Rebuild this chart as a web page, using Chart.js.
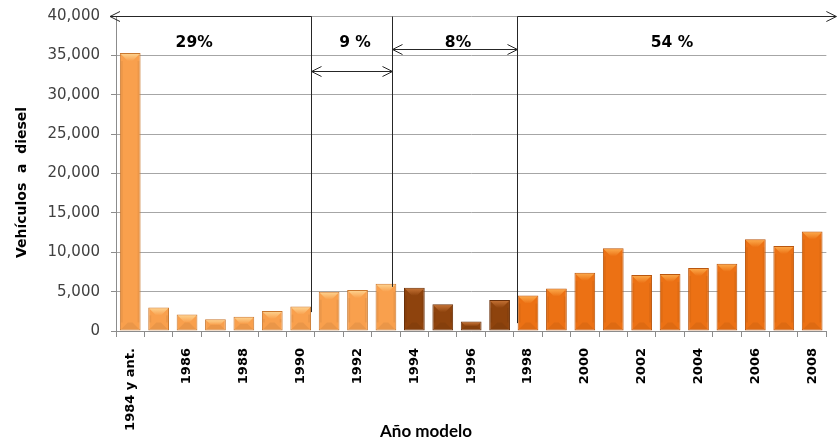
<!DOCTYPE html>
<html>
<head>
<meta charset="utf-8">
<script src="https://cdn.jsdelivr.net/npm/chart.js@4/dist/chart.umd.min.js"></script>
<style>
  html, body { margin: 0; padding: 0; background: #fff; }
  #wrap { width: 839px; height: 442px; position: relative; }
</style>
</head>
<body>
<div id="wrap"><canvas id="grafico"></canvas></div>
<script>
// categorias (año modelo)
const anos = ['1984 y ant.', '1985', '1986', '1987', '1988', '1989', '1990', '1991', '1992',
    '1993', '1994', '1995', '1996', '1997', '1998', '1999', '2000', '2001', '2002', '2003',
    '2004', '2005', '2006', '2007', '2008'];

// vehiculos a diesel por año
const vehiculos = [35300, 3000, 2100, 1500, 1800, 2550, 3100, 5000, 5200,
    6000, 5500, 3400, 1200, 3950, 4500, 5400, 7400, 10500, 7100, 7250,
    8000, 8550, 11650, 10800, 12650];

// marcas del eje y
const ticksY = [0, 5000, 10000, 15000, 20000, 25000, 30000, 35000, 40000];

// periodos marcados arriba
const periodoTexto = ['29%', '9 %', '8%', '54 %'];
const periodoFin = ['1990', '1993', '1997'];   // ultimo año de cada periodo

// colores por periodo: relleno, borde, brillo arriba
const colorRelleno = ['#F9A04D', '#F9A04D', '#8E430D', '#EC7114'];
const colorBorde = ['#C9782F', '#C9782F', '#6A300A', '#B9560E'];
const colorBrillo = ['#FDD08C', '#FDD08C', '#C27033', '#FBA748'];

function periodoDe(ano) {
    const i = anos.indexOf(ano);
    for (let p = 0; p < periodoFin.length; p++) {
        if (i <= anos.indexOf(periodoFin[p])) return p;
    }
    return periodoFin.length;
}

const periodos = anos.map(periodoDe);

// dibuja el biselado de las barras
const biselPlugin = {
    id: 'bisel',
    afterDatasetsDraw(chart) {
        const ctx = chart.ctx;
        chart.getDatasetMeta(0).data.forEach((bar, i) => {
            const p = bar.getProps(['x', 'y', 'base', 'width'], true);
            const l = p.x - p.width / 2 + 1, r = p.x + p.width / 2 - 1;
            const t = p.y + 1, b = p.base - 1;
            const d = Math.min(7, (b - t) / 2);
            ctx.save();
            // brillo arriba
            const g = ctx.createLinearGradient(0, t, 0, t + d);
            g.addColorStop(0, colorBrillo[periodos[i]]);
            g.addColorStop(1, colorRelleno[periodos[i]]);
            ctx.fillStyle = g;
            ctx.beginPath();
            ctx.moveTo(l, t); ctx.lineTo(r, t); ctx.lineTo(r - d, t + d); ctx.lineTo(l + d, t + d);
            ctx.closePath();
            ctx.fill();
            // sombra abajo
            ctx.fillStyle = 'rgba(0,0,0,0.06)';
            ctx.beginPath();
            ctx.moveTo(l, b); ctx.lineTo(r, b); ctx.lineTo(r - d, b - d); ctx.lineTo(l + d, b - d);
            ctx.closePath();
            ctx.fill();
            // lados
            ctx.fillStyle = 'rgba(0,0,0,0.05)';
            ctx.fillRect(l, t + d, 2, b - t - 2 * d);
            ctx.fillRect(r - 2, t + d, 2, b - t - 2 * d);
            ctx.restore();
        });
    }
};

function flecha(ctx, x, y, dir) {
    ctx.beginPath();
    ctx.moveTo(x - dir * 10, y - 5);
    ctx.lineTo(x, y);
    ctx.lineTo(x - dir * 10, y + 5);
    ctx.stroke();
}

// lineas, flechas y porcentajes de los periodos
const periodosPlugin = {
    id: 'periodos',
    afterDatasetsDraw(chart) {
        const ctx = chart.ctx;
        const xs = chart.scales.x, ys = chart.scales.y;
        const area = chart.chartArea;
        // posicion de las lineas en unidades de categoria
        const lineaX = [6.37, 9.22, 13.62];
        const limite = lineaX.map(v => Math.round(xs.getPixelForValue(v)) + 0.5);
        const finLinea = [2400, 5600, 1000];
        const yFlecha = [40000, 33000, 35800, 40000];

        ctx.save();
        ctx.strokeStyle = '#262626';
        ctx.lineWidth = 1;
        const yTop = Math.round(ys.getPixelForValue(40000)) + 0.5;

        limite.forEach((x, k) => {
            ctx.beginPath();
            ctx.moveTo(x, yTop);
            ctx.lineTo(x, ys.getPixelForValue(finLinea[k]));
            ctx.stroke();
        });

        // primer periodo: flecha a la izquierda
        const xIzq = area.left - 6, xDer = area.right + 10;
        ctx.beginPath(); ctx.moveTo(xIzq, yTop); ctx.lineTo(limite[0], yTop); ctx.stroke();
        flecha(ctx, xIzq, yTop, -1);

        // periodos del medio: flechas dobles
        for (let k = 1; k <= 2; k++) {
            const y = Math.round(ys.getPixelForValue(yFlecha[k])) + 0.5;
            ctx.beginPath(); ctx.moveTo(limite[k - 1], y); ctx.lineTo(limite[k], y); ctx.stroke();
            flecha(ctx, limite[k - 1], y, -1);
            flecha(ctx, limite[k], y, 1);
        }

        // ultimo periodo: flecha a la derecha
        ctx.beginPath(); ctx.moveTo(limite[2], yTop); ctx.lineTo(xDer, yTop); ctx.stroke();
        flecha(ctx, xDer, yTop, 1);

        // porcentajes
        ctx.fillStyle = '#000';
        ctx.font = 'bold 15.5px "DejaVu Sans"';
        ctx.textAlign = 'center';
        ctx.textBaseline = 'middle';
        const yTexto = ys.getPixelForValue(36600);
        const centros = [xs.getPixelForValue(2.25), (limite[0] + limite[1]) / 2 + 3,
            (limite[1] + limite[2]) / 2 + 3, (limite[2] + area.right) / 2];
        periodoTexto.forEach((t, k) => ctx.fillText(t, centros[k], yTexto));
        ctx.restore();
    }
};

// titulos de los ejes
const titulosPlugin = {
    id: 'titulos',
    afterDraw(chart) {
        const ctx = chart.ctx;
        const area = chart.chartArea;
        ctx.save();
        ctx.fillStyle = '#000';
        ctx.textAlign = 'center';
        ctx.textBaseline = 'middle';
        ctx.font = 'bold 14px "DejaVu Sans"';
        ctx.translate(22, (area.top + area.bottom) / 2 + 9);
        ctx.rotate(-Math.PI / 2);
        ctx.fillText('Vehículos  a  diesel', 0, 0);
        ctx.restore();

        ctx.save();
        ctx.fillStyle = '#000';
        ctx.textAlign = 'center';
        ctx.textBaseline = 'middle';
        ctx.font = 'bold 17px Lato';
        ctx.fillText('Año modelo', 426, 432);
        ctx.restore();
    }
};

new Chart(document.getElementById('grafico'), {
    type: 'bar',
    data: {
        labels: anos,
        datasets: [{
            label: 'Vehículos a diesel',
            data: vehiculos,
            backgroundColor: periodos.map(p => colorRelleno[p]),
            borderColor: periodos.map(p => colorBorde[p]),
            borderWidth: 1,
            borderSkipped: false,
            categoryPercentage: 1,
            barPercentage: 0.73
        }]
    },
    options: {
        responsive: true,
        maintainAspectRatio: false,
        animation: false,
        layout: { padding: { top: 16, right: 12, left: 0, bottom: 0 } },
        plugins: {
            legend: { display: false },
            tooltip: { enabled: false }
        },
        scales: {
            x: {
                afterFit(scale) { scale.height = 111; },
                grid: {
                    offset: true,
                    drawOnChartArea: false,
                    drawTicks: true,
                    tickLength: 6,
                    color: '#8c8c8c'
                },
                border: { color: '#8c8c8c' },
                ticks: {
                    autoSkip: false,
                    maxRotation: 90,
                    minRotation: 90,
                    padding: 11,
                    color: '#000',
                    font: { family: 'DejaVu Sans', size: 13, weight: 'bold' },
                    callback: function (v, i) { return i % 2 === 0 ? anos[i] : ''; }
                }
            },
            y: {
                min: 0,
                max: 40000,
                afterFit(scale) {
                    scale.width = 116;
                    scale.paddingTop = 0;
                    scale.paddingBottom = 0;
                },
                afterBuildTicks(scale) { scale.ticks = ticksY.map(v => ({ value: v })); },
                grid: {
                    color: '#a6a6a6',
                    tickLength: 5,
                    tickColor: '#8c8c8c'
                },
                border: { color: '#8c8c8c' },
                ticks: {
                    padding: 11,
                    color: '#404040',
                    font: { family: 'DejaVu Sans', size: 15 },
                    callback: v => v.toLocaleString('en-US')
                }
            }
        }
    },
    plugins: [biselPlugin, periodosPlugin, titulosPlugin]
});
</script>
</body>
</html>
